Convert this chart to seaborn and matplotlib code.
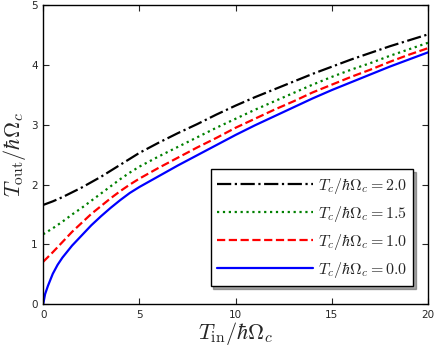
# T_out vs T_in for several T_c values
import pandas as pd
import matplotlib
matplotlib.use("Agg")
import matplotlib.pyplot as plt
import seaborn as sns

# values
t_in = [0, 0.5, 1, 1.5, 2, 2.5, 3, 3.5, 4, 4.5, 5, 6, 7, 8, 9, 10,
        11, 12, 13, 14, 15, 16, 17, 18, 19, 20]
t_out_20 = [1.66, 1.72, 1.79, 1.87, 1.95, 2.04, 2.13, 2.23, 2.33, 2.43, 2.53, 2.70, 2.86, 3.01, 3.17, 3.32,
            3.46, 3.59, 3.72, 3.85, 3.97, 4.09, 4.20, 4.31, 4.41, 4.51]
t_out_15 = [1.17, 1.27, 1.38, 1.50, 1.61, 1.73, 1.85, 1.97, 2.09, 2.20, 2.30, 2.47, 2.63, 2.79, 2.95, 3.10,
            3.25, 3.39, 3.53, 3.67, 3.80, 3.92, 4.03, 4.15, 4.26, 4.37]
t_out_10 = [0.71, 0.87, 1.04, 1.21, 1.36, 1.51, 1.64, 1.77, 1.89, 2.00, 2.10, 2.28, 2.45, 2.62, 2.78, 2.95,
            3.10, 3.25, 3.39, 3.54, 3.67, 3.80, 3.92, 4.05, 4.17, 4.28]

t_in_0 = [0, 0.1, 0.25, 0.5, 0.75, 1, 1.5, 2, 2.5, 3, 3.5, 4, 4.5, 5, 6, 7, 8, 9, 10,
          11, 12, 13, 14, 15, 16, 17, 18, 19, 20]
t_out_00 = [0, 0.17, 0.31, 0.51, 0.66, 0.78, 0.98, 1.15, 1.32, 1.47, 1.61, 1.74, 1.86, 1.96, 2.14, 2.32, 2.49, 2.66, 2.83,
            2.99, 3.14, 3.29, 3.44, 3.58, 3.71, 3.84, 3.97, 4.09, 4.21]

labels = [r"$T_c/\hbar\Omega_c = 2.0$", r"$T_c/\hbar\Omega_c = 1.5$",
          r"$T_c/\hbar\Omega_c = 1.0$", r"$T_c/\hbar\Omega_c = 0.0$"]

sns.set_style("ticks")
plt.rcParams["mathtext.fontset"] = "cm"
plt.rcParams["font.family"] = ["DejaVu Sans"]
plt.rcParams["xtick.direction"] = "in"
plt.rcParams["ytick.direction"] = "in"
plt.rcParams["xtick.top"] = True
plt.rcParams["ytick.right"] = True

fig = plt.figure(figsize=(4.36, 3.46), dpi=100)
ax = fig.add_axes([0.099, 0.1205, 0.883, 0.865])

curves = [
    (t_in, t_out_20, "black", "-."),
    (t_in, t_out_15, "green", ":"),
    (t_in, t_out_10, "red", "--"),
    (t_in_0, t_out_00, "blue", "-"),
]
for (xs, ys, col, ls), lab in zip(curves, labels):
    df = pd.DataFrame({"t_in": xs, "t_out": ys})
    sns.lineplot(data=df, x="t_in", y="t_out", color=col, linestyle=ls,
                 linewidth=1.6, label=lab, ax=ax)

ax.set_xlim(0, 20)
ax.set_ylim(0, 5)
ax.set_xticks([0, 5, 10, 15, 20])
ax.set_yticks([0, 1, 2, 3, 4, 5])
ax.tick_params(labelsize=7.5, length=4, width=0.8, pad=4)
for s in ax.spines.values():
    s.set_linewidth(1.0)
    s.set_color("black")
ax.set_xlabel(r"$T_{\rm in}/\hbar\Omega_c$", fontsize=16, labelpad=0)
ax.set_ylabel(r"$T_{\rm out}/\hbar\Omega_c$", fontsize=16, labelpad=2)

leg = ax.legend(loc="lower right", bbox_to_anchor=(0.961, 0.061), borderaxespad=0,
                fontsize=11.5, handlelength=6.0, handletextpad=0.3,
                shadow=True, fancybox=False, framealpha=1, labelspacing=0.5)
leg.get_frame().set_edgecolor("black")
leg.get_frame().set_linewidth(1.0)

fig.savefig("out.png", dpi=100)
